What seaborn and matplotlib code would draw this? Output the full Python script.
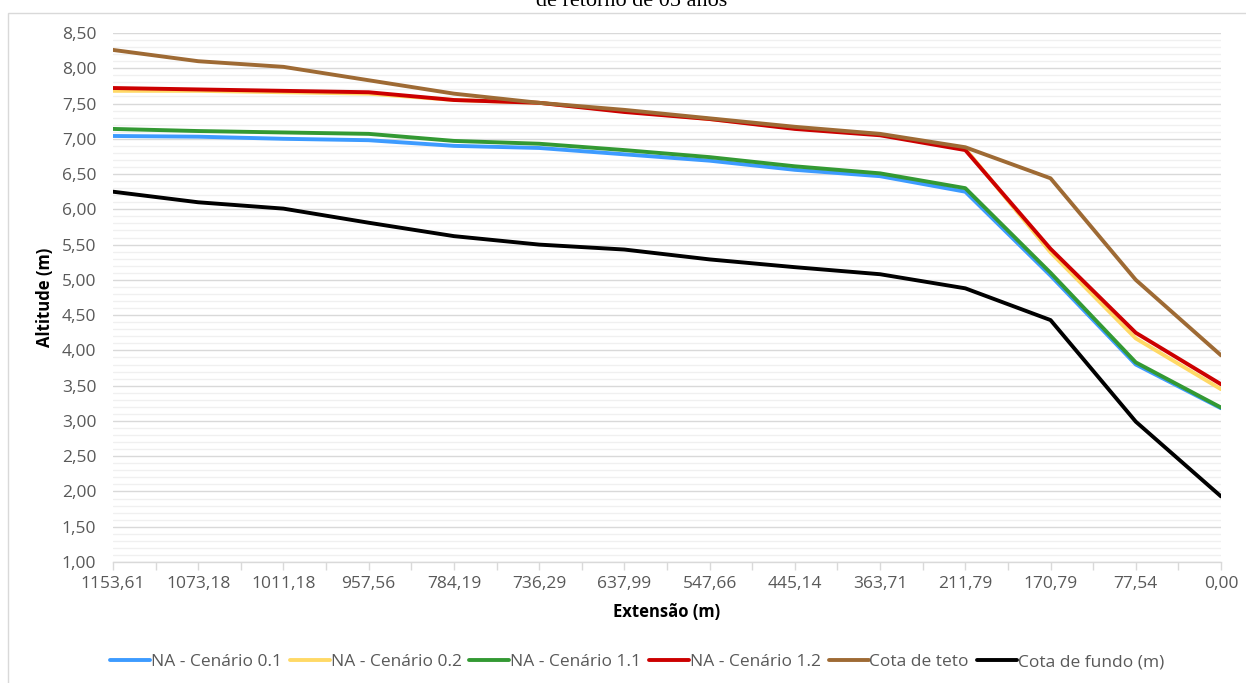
import numpy as np
import pandas as pd
import seaborn as sns
import matplotlib
matplotlib.use("Agg")
import matplotlib.pyplot as plt
from matplotlib.ticker import MultipleLocator, FixedLocator, FuncFormatter
from matplotlib.patches import Rectangle

# ---------------- data ----------------
extensao = ["1153,61", "1073,18", "1011,18", "957,56", "784,19", "736,29", "637,99",
            "547,66", "445,14", "363,71", "211,79", "170,79", "77,54", "0,00"]

na_cen_01 = [7.04, 7.03, 7.00, 6.98, 6.90, 6.87, 6.78, 6.69, 6.56, 6.47, 6.25, 5.06, 3.80, 3.18]
na_cen_02 = [7.68, 7.68, 7.66, 7.64, 7.55, 7.51, 7.39, 7.28, 7.15, 7.06, 6.86, 5.39, 4.17, 3.45]
na_cen_11 = [7.14, 7.11, 7.09, 7.07, 6.97, 6.93, 6.84, 6.74, 6.61, 6.51, 6.30, 5.10, 3.83, 3.19]
na_cen_12 = [7.72, 7.70, 7.68, 7.66, 7.55, 7.51, 7.38, 7.28, 7.14, 7.05, 6.84, 5.44, 4.25, 3.52]
cota_teto = [8.26, 8.10, 8.02, 7.83, 7.64, 7.51, 7.41, 7.29, 7.17, 7.07, 6.88, 6.44, 5.00, 3.93]
cota_fundo = [6.25, 6.10, 6.01, 5.81, 5.62, 5.50, 5.43, 5.29, 5.18, 5.08, 4.88, 4.43, 2.99, 1.93]

series_names = ["NA - Cenário 0.1", "NA - Cenário 0.2", "NA - Cenário 1.1",
                "NA - Cenário 1.2", "Cota de teto", "Cota de fundo (m)"]
series_values = [na_cen_01, na_cen_02, na_cen_11, na_cen_12, cota_teto, cota_fundo]
colors = ["#3D9BFF", "#FFD966", "#339933", "#CC0000", "#9E6A34", "#000000"]

rows = []
for name, vals in zip(series_names, series_values):
    for i, v in enumerate(vals):
        rows.append({"idx": i, "Altitude": v, "Série": name})
df = pd.DataFrame(rows)

# ---------------- style ----------------
sns.set_theme(style="white")
plt.rcParams["font.family"] = ["Open Sans", "DejaVu Sans"]

W, H = 1246, 683
fig = plt.figure(figsize=(W / 100, H / 100), dpi=100)
ax = fig.add_axes([113 / W, 1 - 562 / H, (1221 - 113) / W, (562 - 33) / H])

sns.lineplot(data=df, x="idx", y="Altitude", hue="Série", hue_order=series_names,
             palette=dict(zip(series_names, colors)), linewidth=2.8, ax=ax,
             legend=False, sort=False, zorder=3)

ax.set_xlim(0, len(extensao) - 1)
ax.set_ylim(1.0, 8.5)

# y grid
ax.yaxis.set_major_locator(MultipleLocator(0.5))
ax.yaxis.set_minor_locator(MultipleLocator(0.1))
ax.yaxis.set_major_formatter(FuncFormatter(lambda v, p: f"{v:.2f}".replace(".", ",")))
ax.grid(which="major", axis="y", color="#D9D9D9", linewidth=1.0, zorder=0)
ax.grid(which="minor", axis="y", color="#F0F0F0", linewidth=1.0, zorder=0)
ax.grid(which="both", axis="x", visible=False)
ax.set_axisbelow(True)

# x ticks
ax.xaxis.set_major_locator(FixedLocator(list(range(len(extensao)))))
ax.xaxis.set_minor_locator(FixedLocator([i + 0.5 for i in range(len(extensao) - 1)]))
ax.set_xticklabels(extensao)

for s in ["top", "right", "left"]:
    ax.spines[s].set_visible(False)
ax.spines["bottom"].set_color("#D9D9D9")
ax.spines["bottom"].set_linewidth(1.0)

ax.tick_params(axis="x", which="both", direction="out", length=6, width=1.0,
               color="#D9D9D9", bottom=True, labelsize=12.5, labelcolor="#595959", pad=4)
ax.tick_params(axis="y", which="both", length=0, labelsize=12.5, labelcolor="#595959", pad=12)

ax.set_xlabel("")
ax.set_ylabel("")
fig.text(667 / W, 1 - 612 / H, "Extensão (m)", ha="center", va="center",
         fontsize=12, fontweight="bold", color="black")
fig.text(45 / W, 1 - 297 / H, "Altitude (m)", ha="center", va="center",
         rotation=90, fontsize=12, fontweight="bold", color="black")

# cut-off title at the top (as in the reference)
fig.text(632 / W, 1 - 6 / H, "de retorno de 05 anos", ha="center", va="baseline",
         fontsize=16, family=["Liberation Serif", "DejaVu Serif"], color="black")

# chart area border
fig.patches.append(Rectangle((8 / W, -0.05), 1.2, 1 - 13 / H + 0.05,
                             transform=fig.transFigure, fill=False,
                             edgecolor="#D9D9D9", linewidth=1.0, zorder=0))

# legend
handles = [plt.Line2D([0], [0], color=c, linewidth=2.8) for c in colors]
fig.legend(handles, series_names, loc="center", bbox_to_anchor=(637 / W, 1 - 662 / H),
           ncol=6, frameon=False, fontsize=12.5, handlelength=2.3, handletextpad=0.05,
           columnspacing=0.45, labelcolor="#595959")

fig.savefig("out.png", dpi=100, facecolor="white")
